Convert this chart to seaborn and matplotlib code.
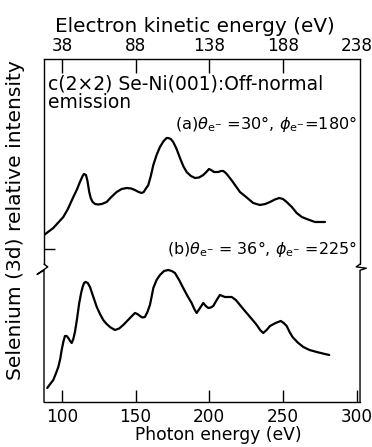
import matplotlib
matplotlib.use("Agg")
import matplotlib.pyplot as plt
import seaborn as sns
import pandas as pd

# ---- data (photon energy in eV, intensity in arbitrary units) ----
energy_a = [87.8, 94.1, 100.9, 104.0, 107.7, 110.0, 112.2, 114.0, 114.9, 116.3, 117.3,
            118.5, 119.5, 120.8, 122.5, 124.6, 127.0, 130.3, 133.5, 137.1, 140.5, 143.9,
            147.0, 149.5, 152.0, 154.1, 155.5, 156.3, 158.6, 160.3, 162.0, 164.2, 166.5,
            169.0, 171.0, 172.1, 173.8, 175.5, 177.8, 180.1, 182.3, 184.6, 187.5, 190.3,
            193.0, 195.9, 198.0, 199.8, 201.2, 203.2, 206.0, 208.0, 209.5, 211.2, 212.9,
            216.0, 220.8, 225.0, 229.8, 234.4, 238.0, 241.2, 244.5, 247.5, 250.0, 252.5,
            256.0, 259.3, 262.8, 266.1, 271.7, 278.5]
intensity_a = [16.7, 17.4, 18.5, 19.3, 20.5, 21.2, 22.0, 22.6, 22.8, 22.7, 22.1,
               21.0, 20.4, 20.0, 19.8, 19.75, 19.8, 20.0, 20.5, 21.0, 21.3, 21.4,
               21.35, 21.2, 21.0, 20.9, 21.0, 21.2, 21.7, 22.6, 23.7, 24.7, 25.5,
               26.1, 26.4, 26.4, 26.3, 26.0, 25.3, 24.4, 23.6, 23.0, 22.6, 22.4,
               22.45, 22.7, 23.0, 23.3, 23.2, 23.0, 23.0, 23.1, 23.1, 22.9, 22.6,
               22.0, 21.0, 20.5, 19.9, 19.7, 19.8, 20.0, 20.25, 20.4, 20.3, 20.0,
               19.5, 18.9, 18.5, 18.3, 18.0, 18.0]

energy_b = [90.0, 92.0, 94.1, 96.0, 97.5, 98.8, 99.8, 100.9, 102.0, 103.2, 104.3,
            105.5, 106.6, 107.7, 108.8, 110.2, 111.7, 113.0, 114.0, 115.0, 116.1, 117.5,
            119.0, 121.3, 123.6, 125.8, 128.0, 130.3, 133.0, 136.0, 138.8, 141.6, 145.5,
            149.5, 151.2, 152.9, 154.6, 156.3, 158.0, 159.7, 160.8, 162.0, 164.2, 166.5,
            169.3, 172.1, 174.5, 176.7, 179.5, 182.3, 185.2, 188.0, 189.8, 191.4, 193.7,
            195.9, 197.6, 199.3, 201.0, 202.7, 205.0, 207.2, 208.9, 210.6, 213.0, 215.2,
            218.0, 220.8, 223.6, 226.5, 229.4, 232.2, 234.5, 236.6, 238.9, 241.2, 245.0,
            248.5, 250.5, 252.5, 254.5, 256.5, 260.0, 263.8, 268.0, 272.9, 277.0, 281.4]
intensity_b = [1.4, 1.8, 2.2, 2.9, 3.5, 4.3, 5.2, 6.0, 6.6, 6.6, 6.4,
               6.1, 5.9, 6.3, 7.0, 8.3, 9.9, 10.9, 11.5, 11.9, 12.0, 11.9,
               11.5, 10.5, 9.5, 8.8, 8.2, 7.8, 7.45, 7.2, 7.35, 7.7, 8.3,
               8.9, 8.8, 8.6, 8.45, 8.5, 9.0, 9.7, 10.5, 11.4, 12.2, 12.7,
               13.1, 13.2, 13.1, 12.9, 12.2, 11.4, 10.6, 9.9, 9.3, 8.9, 9.4,
               9.9, 9.6, 9.4, 9.45, 9.6, 10.2, 10.7, 10.6, 10.5, 10.5, 10.5,
               10.2, 9.7, 9.2, 8.7, 8.2, 7.7, 7.2, 6.9, 7.2, 7.6, 7.9,
               8.1, 7.9, 7.6, 7.0, 6.5, 5.95, 5.5, 5.2, 5.0, 4.85, 4.7]

photon_ticks = [100, 150, 200, 250, 300]
photon_labels = ["100", "150", "200", "250", "300"]
kinetic_labels = ["38", "88", "138", "188", "238"]

label_a = r"(a)$\theta_{\mathrm{e}^{-}}$ =30°, $\phi_{\mathrm{e}^{-}}$=180°"
label_b = r"(b)$\theta_{\mathrm{e}^{-}}$ = 36°, $\phi_{\mathrm{e}^{-}}$ =225°"

df = pd.concat([
    pd.DataFrame({"energy": energy_a, "intensity": intensity_a, "curve": "a"}),
    pd.DataFrame({"energy": energy_b, "intensity": intensity_b, "curve": "b"}),
])

sns.set_theme(style="white")
plt.rcParams["font.family"] = ["DejaVu Sans"]
plt.rcParams["mathtext.fontset"] = "dejavusans"
for k in ["text.color", "axes.labelcolor", "xtick.color", "ytick.color", "axes.edgecolor"]:
    plt.rcParams[k] = "black"

fig = plt.figure(figsize=(3.72, 4.47), dpi=100)
ax = fig.add_axes([0.1183, 0.1007, 0.8495, 0.7673])

sns.lineplot(data=df, x="energy", y="intensity", units="curve", estimator=None,
             color="black", linewidth=1.6, ax=ax, legend=False)

ax.set_xlim(87.8, 302.3)
ax.set_ylim(0, 34.3)

# bottom axis
ax.set_xticks(photon_ticks)
ax.set_xticklabels(photon_labels, fontsize=12.2)
ax.tick_params(axis="x", direction="in", length=9, width=1, pad=4, colors="black")
ax.set_xlabel("Photon energy (eV)", fontsize=12.3)
ax.xaxis.set_label_coords(0.551, -0.07)
ax.set_ylabel("Selenium (3d) relative intensity", fontsize=14.6)
ax.yaxis.set_label_coords(-0.06, 0.531)
ax.set_yticks([15.3])
ax.set_yticklabels([""])
ax.tick_params(axis="y", direction="in", length=8, width=1, left=True)

for s in ["left", "right"]:
    ax.spines[s].set_visible(False)
for s in ["top", "bottom"]:
    ax.spines[s].set_color("black")
    ax.spines[s].set_linewidth(1.0)

# top axis: electron kinetic energy
ax2 = ax.twiny()
ax2.set_xlim(ax.get_xlim())
ax2.set_xticks(photon_ticks)
ax2.set_xticklabels(kinetic_labels, fontsize=12.2)
ax2.tick_params(axis="x", direction="in", length=10, width=1, pad=3, colors="black")
ax2.xaxis.get_major_ticks()[-1].tick2line.set_visible(False)
ax2.set_xlabel("Electron kinetic energy (eV)", fontsize=14.4)
ax2.xaxis.set_label_coords(0.478, 1.08)
for s in ax2.spines.values():
    s.set_visible(False)

# broken side axes (drawn in axes coordinates)
yb = 0.39
ax.plot([0, 0], [yb + 0.012, 1], transform=ax.transAxes, color="black", lw=1.0, clip_on=False)
ax.plot([0, 0, -0.022, 0.012, 0.0, 0], [0, yb - 0.006, yb - 0.018, yb + 0.004, yb + 0.012, yb + 0.012],
        transform=ax.transAxes, color="black", lw=1.0, clip_on=False)
ax.plot([1, 1], [yb + 0.012, 1], transform=ax.transAxes, color="black", lw=1.0, clip_on=False)
ax.plot([1, 1, 1.02, 0.988, 1.0, 1], [0, yb - 0.006, yb + 0.0, yb + 0.004, yb + 0.012, yb + 0.012],
        transform=ax.transAxes, color="black", lw=1.0, clip_on=False)

# annotations
ax.text(0.013, 0.91, "c(2×2) Se-Ni(001):Off-normal", transform=ax.transAxes,
        fontsize=13.5, ha="left", va="baseline")
ax.text(0.013, 0.857, "emission", transform=ax.transAxes,
        fontsize=13.5, ha="left", va="baseline")
ax.text(0.413, 0.796, label_a, transform=ax.transAxes, fontsize=11.6, ha="left", va="baseline")
ax.text(0.389, 0.432, label_b, transform=ax.transAxes, fontsize=11.4, ha="left", va="baseline")

fig.savefig("out.png", dpi=100, facecolor="white")
